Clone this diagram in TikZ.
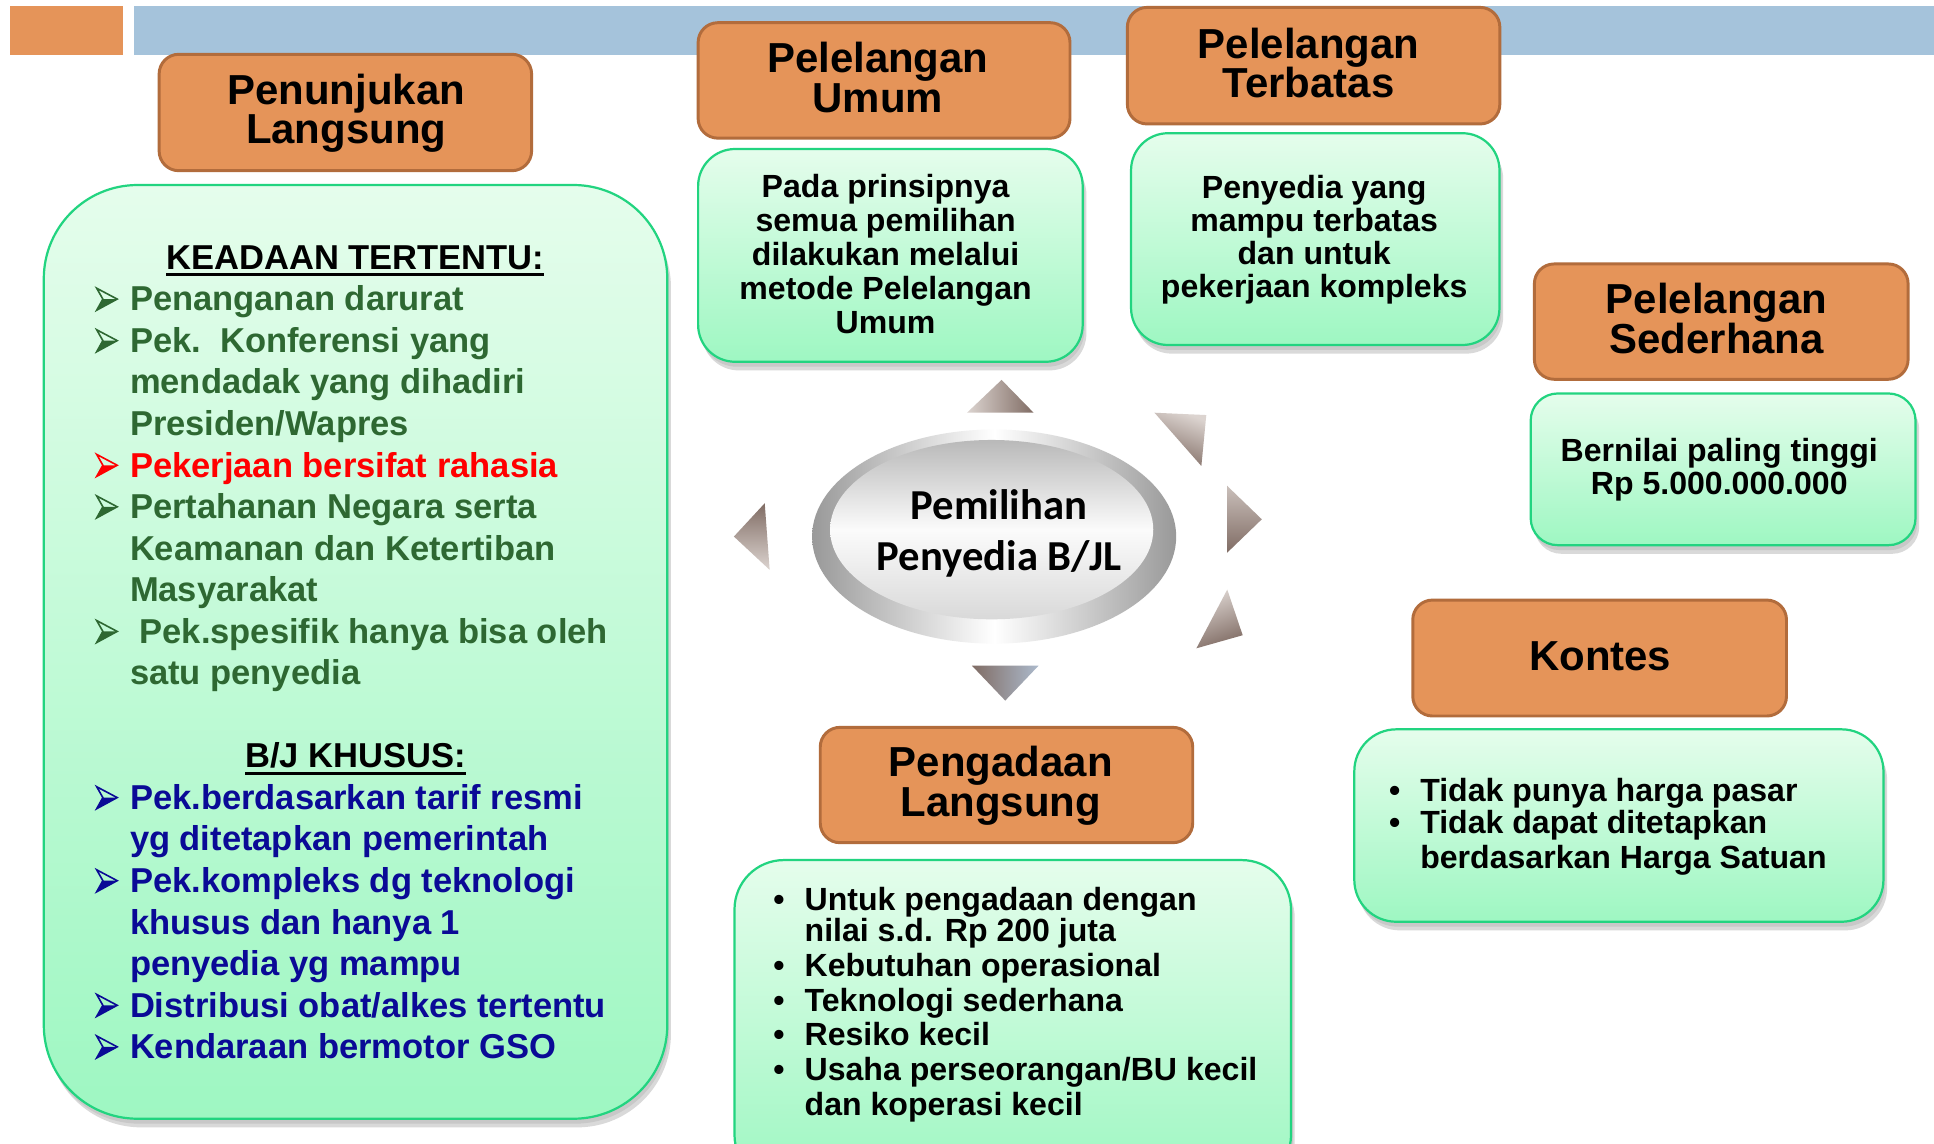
\documentclass[tikz,border=0pt]{standalone}
\usepackage{fontspec}
\setmainfont{Liberation Sans}
\newfontfamily\calibfont{Carlito}

\definecolor{hdrfill}{RGB}{229,148,89}
\definecolor{hdrline}{RGB}{178,108,60}
\definecolor{topbar}{RGB}{165,195,219}
\definecolor{mintTop}{RGB}{229,253,236}
\definecolor{mintBot}{RGB}{158,247,194}
\definecolor{mintLine}{RGB}{34,212,128}
\definecolor{txtgreen}{RGB}{46,104,50}
\definecolor{txtblue}{RGB}{10,10,150}
\definecolor{txtred}{RGB}{255,0,0}
\definecolor{triDark}{RGB}{128,108,100}
\definecolor{triLight}{RGB}{220,212,208}
\definecolor{triBlue}{RGB}{172,186,204}
\definecolor{shadowc}{RGB}{200,200,200}

% underlined heading with a heavier rule
\newcommand\ulx[1]{\setbox0\hbox{#1}\rlap{\rule[-2.7pt]{\wd0}{1.1pt}}\box0}
% list lines of the left panel (room left for the arrowhead bullet)
\newcommand\lline[2]{{\color{#1}\hspace*{13.5pt}#2}}
% round bullet lines
\newcommand\ditem[2]{\makebox[#1][l]{•}#2}
\newcommand\dcont[2]{\hspace*{#1}#2}

\tikzset{
  hdr/.style={draw=hdrline, line width=1.2pt, fill=hdrfill, rounded corners=8pt},
  mint/.style={draw=mintLine, line width=0.9pt, top color=mintTop, bottom color=mintBot, rounded corners=#1},
  shade1/.style={fill=shadowc!70, rounded corners=#1},
  shade2/.style={fill=shadowc, rounded corners=#1},
  hdrtext/.style={inner sep=0pt, align=center, font=\bfseries\fontsize{17}{16}\selectfont},
  bodytext/.style={inner sep=0pt, align=center, font=\bfseries\fontsize{13}{13.6}\selectfont},
  listtext/.style={inner sep=0pt, align=left, font=\bfseries\fontsize{13}{12.5}\selectfont},
  % 3-D arrowhead bullet: outlined upper facet, filled lower facet
  arrowbullet/.pic={
    \fill (0.4,-0.6) -- (17,-9.6) -- (5.4,-9.6) -- cycle;
    \draw[line width=0.65pt, line join=miter]
      (0.4,-18.4) -- (17,-9.6) -- (0.4,-0.6) -- (5.4,-9.6) -- cycle;
  },
}

\newcommand\mintbox[5]{% x1 y1 x2 y2 radius
  \fill[shade1=#5] (#1+3,#2+7) rectangle (#3+3,#4+7);
  \fill[shade2=#5] (#1+1.5,#2+4) rectangle (#3+1.5,#4+4);
  \path[mint=#5] (#1,#2) rectangle (#3,#4);
}

\begin{document}
\begin{tikzpicture}[x=0.5pt,y=-0.5pt]
\useasboundingbox (0,0) rectangle (1568,927);
\clip (0,0) rectangle (1568,927);
\fill[white] (0,0) rectangle (1568,927);

% title band
\fill[hdrfill] (8,5) rectangle (100,44.6);
\fill[topbar] (108.5,5) rectangle (1568,44.6);

% ---------- left panel: Penunjukan Langsung ----------
\path[hdr] (129,44) rectangle (431,138.4);
\node[hdrtext, anchor=base] (plTitle) at (280.7,116.7) {Penunjukan\\[-0.2pt]Langsung};

\mintbox{35.5}{150}{541}{907}{38pt}
\node[anchor=base west, inner sep=0pt, align=left,
      font=\bfseries\fontsize{14}{16.84}\selectfont] (plList) at (78,858.3) {%
\makebox[209.8pt][c]{\ulx{KEADAAN TERTENTU:}}\\
\lline{txtgreen}{Penanganan darurat}\\
\lline{txtgreen}{Pek.\ \ Konferensi yang}\\
\lline{txtgreen}{mendadak yang dihadiri}\\
\lline{txtgreen}{Presiden/Wapres}\\
\lline{txtred}{Pekerjaan bersifat rahasia}\\
\lline{txtgreen}{Pertahanan Negara serta}\\
\lline{txtgreen}{Keamanan dan Ketertiban}\\
\lline{txtgreen}{Masyarakat}\\
\lline{txtgreen}{\ Pek.spesifik hanya bisa oleh}\\
\lline{txtgreen}{satu penyedia}\\[16.84pt]
\makebox[209.8pt][c]{\ulx{B/J KHUSUS:}}\\
\lline{txtblue}{Pek.berdasarkan tarif resmi}\\
\lline{txtblue}{yg ditetapkan pemerintah}\\
\lline{txtblue}{Pek.kompleks dg teknologi}\\
\lline{txtblue}{khusus dan hanya 1}\\
\lline{txtblue}{penyedia yg mampu}\\
\lline{txtblue}{Distribusi obat/alkes tertentu}\\
\lline{txtblue}{Kendaraan bermotor GSO}};
% arrowhead bullets on the list lines (line k sits at 218.4 + 33.68 k)
\foreach \k/\c in {1/txtgreen,2/txtgreen,5/txtred,6/txtgreen,9/txtgreen,
                   13/txtblue,15/txtblue,18/txtblue,19/txtblue}
  \pic[color=\c] at (78,218.4+33.68*\k) {arrowbullet};

% ---------- Pelelangan Umum ----------
\path[hdr] (566,18.4) rectangle (867.5,112);
\node[hdrtext, anchor=base] (puTitle) at (711.7,91.4) {Pelelangan\\[0.2pt]Umum};
\mintbox{566}{120.8}{877.8}{293.3}{15pt}
\node[bodytext, anchor=base, font=\bfseries\fontsize{13}{13.8}\selectfont] (puText) at (718,270.3)
  {Pada prinsipnya\\semua pemilihan\\dilakukan melalui\\metode Pelelangan\\Umum};

% ---------- Pelelangan Terbatas ----------
\path[hdr] (914,6) rectangle (1216,100.5);
\node[hdrtext, anchor=base] (ptTitle) at (1061,79.2) {Pelelangan\\Terbatas};
\mintbox{917}{108}{1215.7}{279.7}{15pt}
\node[bodytext, anchor=base, font=\bfseries\fontsize{13}{13.35}\selectfont] (ptText) at (1065.5,241.3)
  {Penyedia yang\\mampu terbatas\\dan untuk\\pekerjaan kompleks};

% ---------- Pelelangan Sederhana ----------
\path[hdr] (1244,214) rectangle (1547,307.5);
\node[hdrtext, anchor=base] (psTitle) at (1391.8,286.5) {Pelelangan\\Sederhana};
\mintbox{1241}{319}{1553}{442}{11pt}
\node[bodytext, anchor=base, font=\bfseries\fontsize{13}{13.5}\selectfont] (psText) at (1393.9,401.3)
  {Bernilai paling tinggi\\Rp 5.000.000.000};

% ---------- Kontes ----------
\path[hdr] (1145.4,486.5) rectangle (1448.4,580.5);
\node[hdrtext, anchor=base] (ktTitle) at (1297.4,543.8) {Kontes};
\mintbox{1098}{591.3}{1527}{747.3}{17pt}
\node[listtext, anchor=base west, font=\bfseries\fontsize{13}{12.8}\selectfont] (ktText) at (1125.8,704) {%
\ditem{12.65pt}{Tidak punya harga pasar}\\
\ditem{12.65pt}{Tidak dapat ditetapkan}\\[1.4pt]
\dcont{12.65pt}{berdasarkan Harga Satuan}};

% ---------- Pengadaan Langsung ----------
\path[hdr] (665,589.7) rectangle (967,683.2);
\node[hdrtext, anchor=base] (pgTitle) at (811.4,662.1) {Pengadaan\\[0.2pt]Langsung};
\mintbox{595.5}{697.3}{1046.7}{960}{20pt}
\node[listtext, anchor=base west] (pgText) at (626.6,904) {%
\ditem{12.7pt}{Untuk pengadaan dengan}\\
\dcont{12.7pt}{nilai s.d. Rp 200 juta}\\[1.9pt]
\ditem{12.7pt}{Kebutuhan operasional}\\[1.5pt]
\ditem{12.7pt}{Teknologi sederhana}\\[1.5pt]
\ditem{12.7pt}{Resiko kecil}\\[1.4pt]
\ditem{12.7pt}{Usaha perseorangan/BU kecil}\\[1.6pt]
\dcont{12.7pt}{dan koperasi kecil}};

% ---------- central hub ----------
\shade[left color=gray!80, right color=gray!80, middle color=white]
  (806,435) ellipse [x radius=147.6, y radius=86.8];
\shade[top color=gray!55, bottom color=gray!30, middle color=gray!3]
  (804,429.4) ellipse [x radius=131, y radius=72.7];
\node[inner sep=0pt, align=center, anchor=base, font=\calibfont\bfseries\fontsize{17.3}{20.85}\selectfont]
  (hub) at (810,462.7) {Pemilihan\\Penyedia B/JL};

% pointer triangles around the hub
\shade[left color=triLight, right color=triDark] (784,334.6) -- (812,308) -- (838,334.6) -- cycle;
\shade[top color=triLight, bottom color=triDark, shading angle=-20] (936,334.6) -- (978,336.5) -- (974,377.8) -- cycle;
\shade[top color=triLight!80!triDark, bottom color=triDark] (995,394) -- (1023,421) -- (995,448) -- cycle;
\shade[top color=triLight, bottom color=triDark, shading angle=20] (995,478) -- (1007.5,515) -- (970,525.6) -- cycle;
\shade[left color=triDark, right color=triBlue] (788,539.7) -- (842,539.7) -- (815,568) -- cycle;
\shade[top color=triDark, bottom color=triLight] (620,408) -- (595,435) -- (624,462) -- cycle;
\end{tikzpicture}
\end{document}
